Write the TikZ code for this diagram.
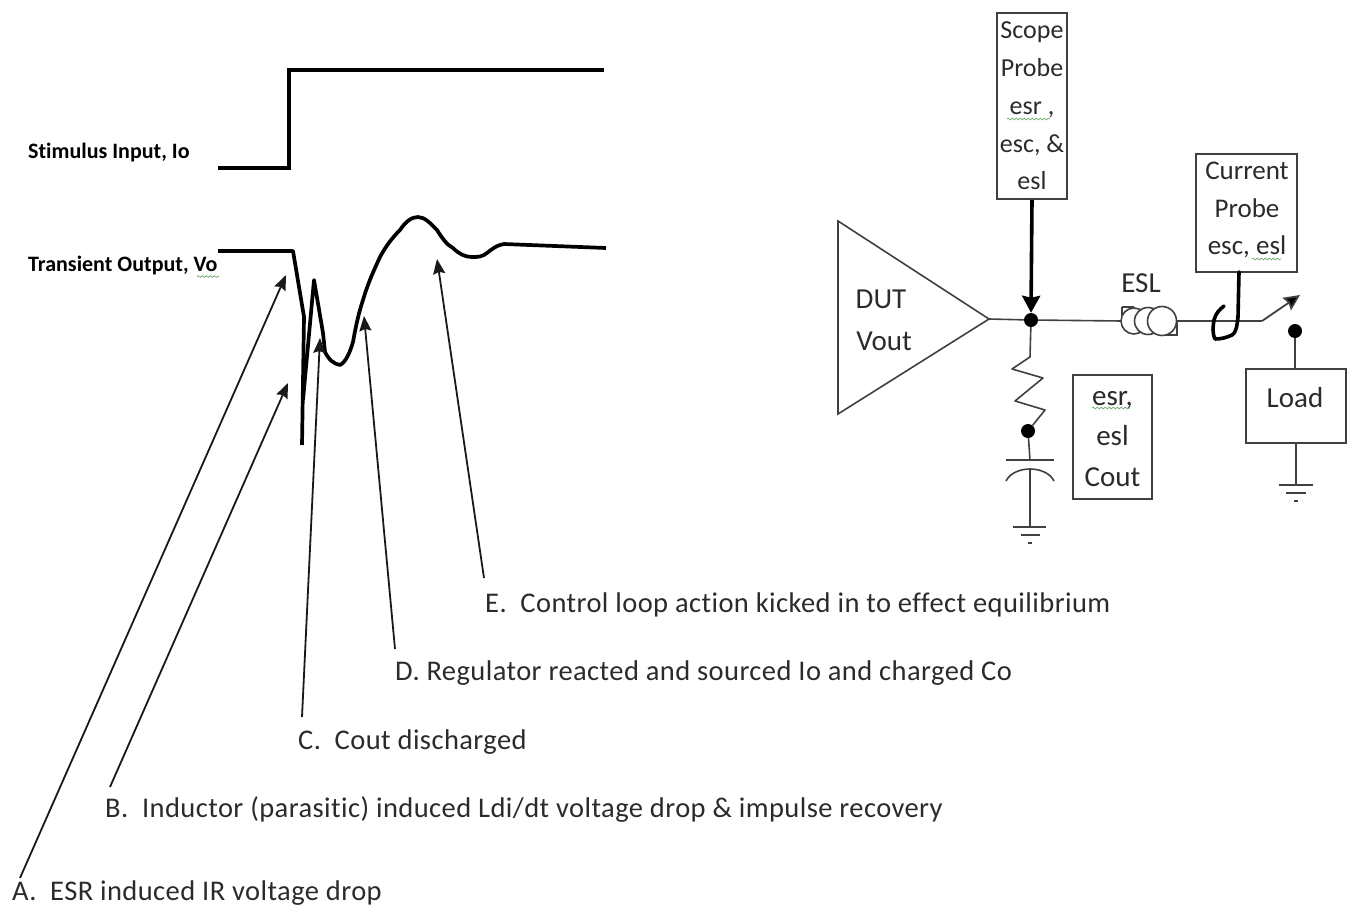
\documentclass[tikz,border=0pt]{standalone}
\usepackage{fontspec}
\setmainfont{Carlito}[Ligatures=NoCommon]
\usetikzlibrary{arrows.meta, positioning, decorations.pathmorphing}
\definecolor{inktext}{HTML}{2B2B2B}
\definecolor{spellgreen}{HTML}{6FA86F}
\tikzset{
    pointer/.style = {-{Stealth[length=15pt,width=12pt,inset=2pt]}, line width=1.8pt, black!90},
    wave/.style = {line width=3.7pt, line join=round},
    wire/.style = {line width=1.6pt, draw=black!75},
    infobox/.style = {draw=black!75, line width=1.6pt, align=center, inner sep=0pt,
        text=inktext, font=\fontsize{26}{37.8}\selectfont},
    infotext/.style = {align=center, inner sep=0pt, text=inktext},
    caption/.style = {anchor=west, inner sep=0pt, text=inktext,
        font=\fontsize{28.5}{32}\selectfont\addfontfeatures{LetterSpace=1.5}},
    signal/.style = {anchor=west, inner sep=0pt, font=\fontsize{22}{26}\selectfont\bfseries},
    partname/.style = {inner sep=0pt, text=inktext, font=\fontsize{29}{32}\selectfont},
    junction/.style = {circle, fill=black, inner sep=0pt, minimum size=14pt},
    squiggle/.style = {spellgreen, line width=.7pt, decorate,
        decoration={snake, amplitude=.9pt, segment length=4pt}}
}
\begin{document}
\begin{tikzpicture}[x=1pt, y=-1pt]
    \useasboundingbox (0, 0) rectangle (1349, 905);

    % waveforms
    \draw[wave, line join=miter] (218, 168) -- (289, 168) -- (289, 70) -- (604, 70);
    \draw[wave] (218, 251) -- (293, 251) -- (304, 317) -- (302, 445);
    \draw[wave] (303, 400) -- (314, 280) -- (323, 333) -- (325, 352)
        .. controls (329, 360) and (334, 364) .. (340, 365)
        .. controls (346, 362) and (350, 352) .. (353, 342)
        .. controls (356, 325) and (359, 312) .. (363, 300)
        .. controls (368, 283) and (374, 270) .. (380, 257)
        .. controls (386, 246) and (392, 238) .. (400, 230)
        .. controls (406, 221) and (412, 217) .. (418, 217)
        .. controls (425, 217) and (431, 224) .. (437, 230)
        .. controls (442, 238) and (447, 245) .. (453, 248)
        .. controls (459, 254) and (465, 257) .. (472, 257)
        .. controls (478, 257) and (482, 257) .. (487, 253)
        .. controls (492, 249) and (497, 245) .. (504, 244)
        -- (606, 248);

    \node[signal] (stimulus) at (28, 153) {Stimulus Input, Io};
    \node[signal] (transient) at (28, 266) {Transient Output, Vo};
    \draw[squiggle] (197, 276.5) -- (219, 276.5);

    % captions and their arrows
    \node[caption] (lblE) at (485, 605) {E.\ \ Control loop action kicked in to effect equilibrium};
    \node[caption] (lblD) at (395, 673) {D. Regulator reacted and sourced Io and charged Co};
    \node[caption] (lblC) at (298, 742) {C.\ \ Cout discharged};
    \node[caption] (lblB) at (105, 810) {B.\ \ Inductor (parasitic) induced Ldi/dt voltage drop \& impulse recovery};
    \node[caption] (lblA) at (12, 893) {A.\ \ ESR induced IR voltage drop};

    \coordinate (tipE) at (437, 259);
    \coordinate (tipD) at (364, 316);
    \coordinate (tipC) at (320, 338);
    \coordinate (tipB) at (288, 383);
    \coordinate (tipA) at (286, 275);
    \coordinate (tailE) at (484, 578);
    \coordinate (tailD) at (395, 649);
    \coordinate (tailC) at (302, 717);
    \coordinate (tailB) at (110, 787);
    \coordinate (tailA) at (20, 878);
    \foreach \lbl in {A, B, C, D, E}
        \draw[pointer] (tail\lbl) -- (tip\lbl);

    % amplifier
    \coordinate (dutL) at (838, 221);
    \coordinate (dutO) at (989, 319);
    \coordinate (dutB) at (838, 414);
    \draw[wire] (dutL) -- (dutO) -- (dutB) -- cycle;
    \node[partname] (dut) at (881, 299) {DUT};
    \node[partname] (vout) at (884, 341) {Vout};

    % main line
    \node[junction] (vnode) at (1031, 320) {};
    \node[partname] (esl) at (1141, 283) {ESL};
    \coordinate (indL) at (1122, 321);
    \coordinate (indR) at (1177, 321);
    \coordinate (swL) at (1262, 321);
    \coordinate (swR) at (1300, 295);
    \draw[wire] (dutO) -- (vnode) -- (indL);
    \draw[wire] (indR) -- (swL);
    \draw[wire] (1122, 307) -- (1134, 307) (1122, 307) -- (indL) (1162, 335) -- (1177, 335) -- (indR);
    \foreach \cx/\cr in {1134/13, 1148/13.5, 1162/14.5}
        \draw[wire, fill=white] (\cx, 321) circle (\cr);
    \draw[wire, line width=1.8pt, -{Stealth[length=16pt,width=15pt,inset=2pt,fill=black]}] (swL) -- (swR);

    % scope probe
    \node[infobox, minimum width=70pt, minimum height=186pt] (scope) at (1032, 106)
        {Scope\\Probe\\esr ,\\esc, \&\\esl};
    \draw[squiggle] (1007, 119) -- (1050, 119);
    \draw[line width=3.6pt, -{Stealth[length=17pt,width=18pt,inset=2pt]}] (scope.south) -- (vnode.north);

    % current probe
    \node[infobox, minimum width=101pt, minimum height=118pt] (current) at (1246.5, 213) {};
    \node[infotext, font=\fontsize{27}{37.8}\selectfont] (currenttxt) at (1247, 210)
        {Current\\Probe\\esc, esl};
    \draw[squiggle] (1252, 259) -- (1281, 259);
    \draw[line width=3.6pt, line join=round, line cap=round] (1239, 272)
        -- (1238, 317) .. controls (1237, 326) and (1236, 333) .. (1232, 335)
        .. controls (1226, 338) and (1220, 339) .. (1215, 339)
        .. controls (1212, 332) and (1213, 327) .. (1214, 320)
        .. controls (1216, 313) and (1219, 310) .. (1224, 306);

    % esr branch
    \node[junction] (esrdot) at (1028, 431) {};
    \draw[wire, line join=round] (vnode) -- (1030, 357) -- (1012, 369) -- (1043, 378)
        -- (1015, 401) -- (1045, 410) -- (esrdot);
    \coordinate (plate) at (1030, 460);
    \coordinate (gndC) at (1030, 527);
    \draw[wire] (esrdot) -- (plate);
    \draw[wire] (1006, 460) -- (1054, 460);
    \draw[wire] (1006, 481) .. controls (1010, 473) and (1020, 469) .. (1030, 469)
        .. controls (1040, 469) and (1050, 473) .. (1054, 481);
    \draw[wire] (1030, 469) -- (gndC);
    \draw[wire] (1013, 527) -- (1046, 527) (1021, 535) -- (1040, 535) (1028, 543) -- (1032, 543);
    \node[infobox, minimum width=79pt, minimum height=124pt] (cout) at (1112.5, 437) {};
    \node[infotext, font=\fontsize{29}{40.5}\selectfont] (couttxt) at (1112.5, 439)
        {esr,\\esl\\Cout};
    \draw[squiggle] (1092, 408) -- (1130, 408);

    % load
    \node[junction] (swdot) at (1295, 331) {};
    \node[infobox, minimum width=100pt, minimum height=74pt] (load) at (1296, 406) {};
    \node[partname] (loadtxt) at (1295, 398) {Load};
    \draw[wire] (swdot) -- (swdot |- load.north);
    \coordinate (gndL) at (1296, 485);
    \draw[wire] (load.south) -- (gndL);
    \draw[wire] (1279, 485) -- (1313, 485) (1286, 493) -- (1306, 493) (1294, 501) -- (1298, 501);
\end{tikzpicture}
\end{document}
